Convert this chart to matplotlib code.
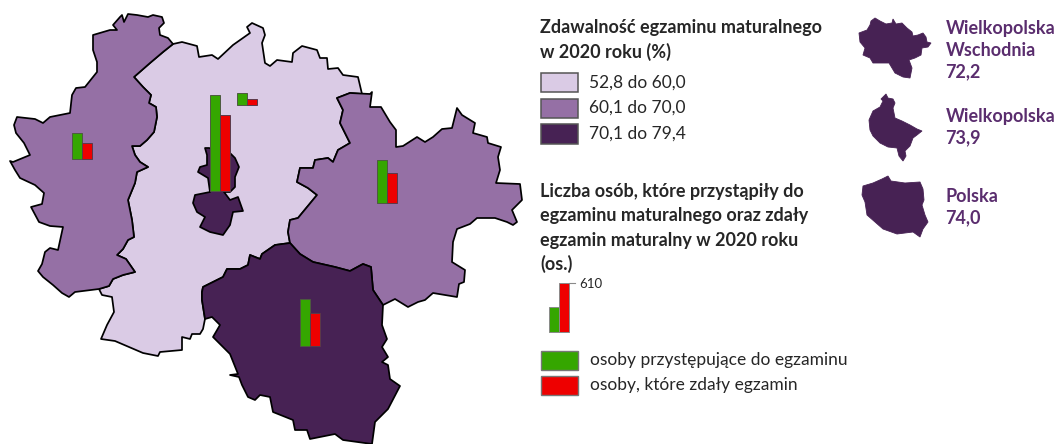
import matplotlib
matplotlib.use("Agg")
import matplotlib.pyplot as plt
from matplotlib.patches import Polygon, Rectangle

plt.rcParams['font.family'] = ['Lato', 'DejaVu Sans']

# --- DATA ---
rate_labels = ["52,8 do 60,0", "60,1 do 70,0", "70,1 do 79,4"]
bar_labels = ["osoby przystępujące do egzaminu", "osoby, które zdały egzamin"]
took_exam = [325, 1195, 155, 540, 585]
passed_exam = [200, 945, 75, 375, 415]
legend_took = 310
legend_passed = 610
mini_names = ["Wielkopolska\nWschodnia\n72,2", "Wielkopolska\n73,9", "Polska\n74,0"]

# --- COLOURS ---
LIGHT = "#dacbe5"
MID = "#9570a5"
DARK = "#472254"
GREEN = "#35a600"
RED = "#ee0000"
TEXT = "#262626"
MINI_TEXT = "#5a2d6e"

# --- OUTLINES in pixels ---
west_central = [(173,44),(163,52),(150,63),(142,70),(134,77),(143,87),(151,95),(149,103),(156,107),
    (157,117),(154,132),(147,140),(140,146),(132,146),(135,155),(140,162),(148,167),(137,172),
    (135,183),(128,200),(132,220),(134,237),(128,240),(123,249),(117,255),(126,259),(135,272),
    (123,275),(113,279),(109,286),(99,289)]
west_outer = [(75,292),(69,297),(62,293),(53,285),(43,277),(38,271),(42,264),(45,252),(50,248),
    (58,250),(63,227),(50,226),(39,222),(31,207),(42,204),(44,193),(35,185),(20,178),(15,170),
    (10,161),(13,162),(30,155),(24,143),(16,133),(14,125),(17,117),(35,119),(43,123),(50,117),
    (70,113),(72,95),(76,88),(85,87),(97,72),(97,62),(93,50),(93,35),(110,30),(117,30),(113,25),
    (120,17),(122,15),(124,22),(128,14),(137,15),(148,17),(153,15),(162,17),(164,23),(159,28),
    (160,35),(168,38)]
central_top = [(182,42),(197,46),(199,57),(212,55),(218,59),(233,45),(250,33),(247,27),(252,23),
    (263,28),(265,35),(262,43),(265,63),(270,66),(277,60),(292,62),(293,53),(302,46),(317,50),
    (320,58),(327,58),(328,69),(338,68),(343,75),(358,77),(362,94),(350,93)]
central_east = [(337,98),(343,110),(340,123),(345,133),(350,143),(338,150),(333,162),(328,158),
    (315,160),(313,168),(300,168),(297,182),(308,188),(317,195),(298,218),(290,220),(288,232),
    (290,243)]
central_south = [(275,245),(262,254),(260,259),(250,255),(248,265),(240,269),(227,269),(223,277),
    (203,287),(202,292),(202,300),(205,319)]
central_bottom = [(203,329),(200,334),(192,334),(190,339),(182,337),(182,350),(160,352),(158,356),
    (143,353),(115,341),(101,339),(107,325),(114,312),(112,297),(102,295)]
east_outer = [(350,93),(370,94),(372,92),(370,107),(381,107),(390,122),(396,130),(396,147),(403,146),
    (417,137),(425,142),(433,137),(442,129),(452,128),(457,108),(462,115),(475,123),(473,133),
    (487,137),(488,143),(501,147),(498,157),(500,170),(496,183),(520,184),(522,200),(512,210),
    (517,222),(513,225),(507,222),(495,218),(477,218),(470,224),(457,229),(453,242),(452,262),
    (465,270),(464,282),(459,284),(457,297),(433,293),(425,300),(418,302),(408,307),(395,299),
    (383,305)]
east_south = [(373,290),(371,267),(363,264),(350,271),(335,267),(313,262),(300,254)]
south_outer = [(212,317),(220,325),(213,337),(230,354),(238,374),(230,375),(239,377),(242,385),
    (248,397),(255,400),(260,395),(270,397),(273,412),(293,420),(295,430),(307,430),(310,439),
    (335,434),(343,440),(372,444),(375,422),(388,409),(400,386),(390,379),(388,365),(382,362),
    (388,357),(382,347),(387,339),(382,325)]
city = [(205,148),(209,148),(230,153),(235,158),(239,167),(235,177),(235,187),(230,192),(224,192),
    (230,200),(238,197),(243,211),(233,212),(230,225),(223,235),(210,232),(200,227),(205,217),
    (197,212),(193,203),(195,195),(210,192),(208,178),(198,172),(200,167),(207,165),(207,155)]
mini_ww = [(871,21),(875,18),(880,21),(886,24),(892,23),(893,19),(896,24),(902,23),(907,28),(912,32),
    (913,36),(918,35),(923,33),(926,37),(927,42),(931,43),(928,47),(922,48),(921,55),(915,58),
    (909,60),(912,68),(910,78),(903,77),(895,73),(889,63),(882,63),(873,63),(870,58),(863,55),
    (865,48),(860,42),(859,33),(867,30),(870,25)]
mini_wlkp = [(886,94),(888,98),(893,99),(895,103),(893,108),(895,118),(902,121),(910,125),(917,129),
    (922,131),(917,135),(913,138),(910,146),(905,151),(906,156),(903,161),(899,156),(897,148),
    (888,147),(880,143),(873,136),(870,130),(869,120),(873,111),(880,107),(883,101),(881,99)]
mini_pl = [(863,186),(873,183),(882,179),(888,176),(891,181),(905,183),(920,182),(923,189),(924,200),
    (922,205),(925,215),(928,222),(923,229),(920,237),(913,232),(905,233),(897,234),(883,229),
    (875,222),(867,215),(865,202),(862,195)]

fig = plt.figure(figsize=(10.54, 4.44), dpi=100)
ax = fig.add_axes([0, 0, 1, 1])
ax.set_xlim(0, 1054)
ax.set_ylim(444, 0)
ax.axis("off")

# --- MAP ---
regions = [
    (central_top + central_east + central_south + central_bottom + [(99,289)] + west_central[::-1], LIGHT),
    (west_central + west_outer, MID),
    (central_east[::-1] + east_outer + [(383,305)] + east_south, MID),
    ([(290,243)] + central_south + south_outer + [(383,305)] + east_south, DARK),
    (city, DARK),
]
for pts, col in regions:
    ax.add_patch(Polygon(pts, closed=True, fc=col, ec="black", lw=1.25, joinstyle="round"))

for pts in [mini_ww, mini_wlkp, mini_pl]:
    ax.add_patch(Polygon(pts, closed=True, fc=DARK, ec=DARK, lw=0.6))

# --- BARS ---
px_per_person = 49 / legend_passed
bar_left = [72, 210, 237, 377, 300]
bar_base = [159, 191, 105, 203, 346]
for i in range(len(took_exam)):
    ax.bar(bar_left[i], -took_exam[i] * px_per_person, width=10, bottom=bar_base[i], align="edge",
           color=GREEN, edgecolor="#4d5a40", lw=0.7, zorder=3)
    ax.bar(bar_left[i] + 10, -passed_exam[i] * px_per_person, width=10, bottom=bar_base[i], align="edge",
           color=RED, edgecolor="#5a3a4a", lw=0.7, zorder=3)

# legend bars
ax.bar(549, -legend_took * px_per_person, width=10, bottom=332, align="edge",
       color=GREEN, edgecolor="#8a8a8a", lw=0.7)
ax.bar(559, -legend_passed * px_per_person, width=10, bottom=332, align="edge",
       color=RED, edgecolor="#8a8a8a", lw=0.7)
ax.plot([569, 575], [283, 283], color="#8a8a8a", lw=0.8)
ax.text(579, 283.5, str(legend_passed), fontsize=9.5, color=TEXT, va="center")

# --- LEGENDS ---
ax.text(540, 27, "Zdawalność egzaminu maturalnego", fontsize=13, fontweight="bold", color=TEXT, va="center")
ax.text(540, 52, "w 2020 roku (%)", fontsize=13, fontweight="bold", color=TEXT, va="center")

for label, col, y in zip(rate_labels, [LIGHT, MID, DARK], [73, 98.5, 124]):
    ax.add_patch(Rectangle((540.5, y), 37, 19.5, fc=col, ec="#555555", lw=1.1))
    ax.text(589, y + 9.5, label, fontsize=12.5, color=TEXT, va="center")

liczba = ["Liczba osób, które przystąpiły do", "egzaminu maturalnego oraz zdały",
          "egzamin maturalny w 2020 roku", "(os.)"]
for line, y in zip(liczba, [191, 215.5, 240, 264]):
    ax.text(540, y, line, fontsize=13, fontweight="bold", color=TEXT, va="center")

for label, col, y in zip(bar_labels, [GREEN, RED], [350.5, 375.5]):
    ax.add_patch(Rectangle((540.5, y), 37, 19.5, fc=col, ec="#777777", lw=1))
    ax.text(590, y + 9, label, fontsize=12.5, color=TEXT, va="center")

# --- MINI MAP LABELS ---
for name, y in zip(mini_names, [20, 108, 188]):
    for j, line in enumerate(name.split("\n")):
        ax.text(945.5, y + 8.5 + j * 21.5, line, fontsize=13, fontweight="bold", color=MINI_TEXT, va="center")

fig.savefig("out.png", dpi=100)
